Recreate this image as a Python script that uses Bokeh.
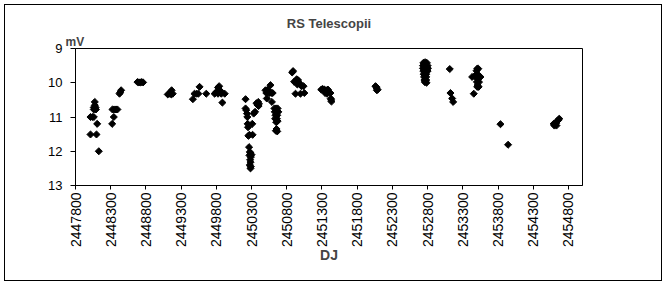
from bokeh.plotting import figure
from bokeh.layouts import column
from bokeh.models import (Range1d, FixedTicker, BasicTickFormatter, Title, ColumnDataSource)
from bokeh.embed import file_html
from bokeh.resources import INLINE
from math import pi

title_text = "RS Telescopii"
x_label = "DJ"
y_label = "mV"
x_ticks = [2447800 + 500 * k for k in range(15)]
y_ticks = [9, 10, 11, 12, 13]

jd = [
    2448013, 2448040, 2448060, 2448074, 2448074, 2448060, 2448085, 2448060, 2448090,
    2448108, 2448013, 2448098, 2448131,
    2448321, 2448344, 2448325, 2448350, 2448375, 2448395, 2448425, 2448435, 2448448,
    2448680, 2448700, 2448720, 2448740, 2448760,
    2449110, 2449135, 2449160, 2449181, 2449165, 2449150,
    2449467, 2449490, 2449520, 2449545, 2449562, 2449657,
    2449776, 2449800, 2449824, 2449840, 2449850, 2449824, 2449871, 2449919, 2449860, 2449886,
    2450215, 2450215, 2450225, 2450235, 2450240, 2450245, 2450250, 2450310, 2450255,
    2450270, 2450315,
    2450265, 2450275, 2450285, 2450270, 2450290, 2450280, 2450285, 2450275, 2450290,
    2450285, 2450300,
    2450330, 2450350, 2450370, 2450385, 2450395, 2450405, 2450400,
    2450498, 2450510, 2450530, 2450517, 2450569, 2450555, 2450580, 2450600, 2450589,
    2450625, 2450650, 2450670, 2450630, 2450660, 2450680, 2450640, 2450665, 2450635,
    2450660, 2450650, 2450670, 2450655, 2450665, 2450645,
    2450877, 2450890, 2450924, 2450905, 2450940, 2450960, 2450975, 2450990, 2451010,
    2451038, 2450950, 2450924, 2450995, 2451050,
    2451290, 2451310, 2451335, 2451360, 2451385, 2451345, 2451370, 2451420, 2451425,
    2451435, 2451430,
    2452060, 2452075, 2452090, 2452080, 2452070,
    2452740, 2452765, 2452790, 2452735, 2452765, 2452800, 2452735, 2452770, 2452805,
    2452740, 2452775, 2452800, 2452745, 2452780, 2452750, 2452780, 2452755, 2452780,
    2452760, 2452785,
    2453115, 2453125, 2453149, 2453163,
    2453456, 2453504, 2453520, 2453495, 2453433, 2453470, 2453551, 2453510, 2453510,
    2453500, 2453530, 2453510, 2453525, 2453505,
    2453835, 2453943,
    2454590, 2454610, 2454625, 2454640, 2454660, 2454670, 2454600, 2454630,
]

mag = [
    11.0, 11.0, 11.0, 10.56, 10.66, 10.72, 10.72, 10.78, 10.78,
    11.2, 11.51, 11.51, 12.0,
    11.2, 11.0, 10.78, 10.78, 10.78, 10.78, 10.32, 10.28, 10.22,
    9.98, 9.99, 9.99, 9.98, 9.99,
    10.34, 10.32, 10.34, 10.32, 10.22, 10.28,
    10.48, 10.32, 10.32, 10.32, 10.12, 10.32,
    10.32, 10.27, 10.14, 10.10, 10.22, 10.32, 10.32, 10.32, 10.25, 10.58,
    10.48, 10.75, 10.8, 10.9, 11.0, 11.2, 11.3, 11.2, 11.55,
    11.52, 11.52,
    11.88, 12.02, 12.05, 12.12, 12.17, 12.25, 12.32, 12.4, 12.45,
    12.5, 12.1,
    10.9, 10.85, 10.6, 10.65, 10.56, 10.62, 10.68,
    10.22, 10.3, 10.2, 10.46, 10.07, 10.3, 10.3, 10.3, 10.56,
    10.75, 10.75, 10.75, 10.85, 10.85, 10.85, 10.95, 10.95, 11.05,
    11.05, 11.15, 11.12, 11.35, 11.42, 11.4,
    9.70, 9.66, 9.95, 9.97, 9.90, 9.92, 10.0, 10.05, 10.1,
    10.1, 10.05, 10.32, 10.32, 10.3,
    10.2, 10.18, 10.2, 10.22, 10.2, 10.3, 10.32, 10.3, 10.46,
    10.55, 10.5,
    10.1, 10.15, 10.2, 10.22, 10.12,
    9.42, 9.40, 9.42, 9.5, 9.5, 9.5, 9.58, 9.58, 9.58,
    9.66, 9.66, 9.66, 9.75, 9.75, 9.83, 9.83, 9.92, 9.92,
    9.98, 10.0,
    9.60, 10.30, 10.46, 10.56,
    10.32, 9.59, 9.59, 9.65, 9.83, 9.80, 9.83, 9.75, 9.9,
    9.98, 9.98, 10.07, 10.12, 10.12,
    11.21, 11.81,
    11.2, 11.2, 11.18, 11.12, 11.08, 11.05, 11.25, 11.25,
]

src = ColumnDataSource(data=dict(jd=jd, mag=mag))

font = "Liberation Sans"

# figure sits inside a 1px bordered box at (4,4); canvas origin is at page (5,5)
p = figure(width=656, height=275, output_backend="svg", toolbar_location=None,
           x_range=Range1d(2447800, 2455000), y_range=Range1d(13, 9),
           title=title_text,
           min_border_left=70, min_border_right=79, min_border_top=43, min_border_bottom=95)
p.title.text_font = font
p.title.text_font_style = "bold"
p.title.text_font_size = "13px"
p.title.align = "center"
p.title.offset = 4
p.title.standoff = 4
p.add_layout(Title(text=y_label, align="left", text_font=font, text_font_style="bold",
                   text_font_size="12px", standoff=0, offset=-10), "above")

p.background_fill_color = "white"
p.border_fill_color = "white"
p.outline_line_color = "black"
p.outline_line_width = 1
p.xgrid.visible = False
p.ygrid.visible = False

p.scatter("jd", "mag", source=src, marker="square", angle=pi / 4, size=5, color="black")

p.xaxis.ticker = FixedTicker(ticks=x_ticks)
p.xaxis.formatter = BasicTickFormatter(use_scientific=False)
p.xaxis.major_label_orientation = pi / 2
p.xaxis.major_label_text_font = font
p.xaxis.major_label_text_font_size = "14px"
p.xaxis.major_label_text_color = "black"
p.xaxis.major_label_standoff = 3
p.xaxis.major_tick_out = 4
p.xaxis.major_tick_in = 0
p.xaxis.minor_tick_out = 0
p.xaxis.minor_tick_in = 0
p.xaxis.axis_line_color = "black"
p.xaxis.major_tick_line_color = "black"
p.xaxis.axis_label = x_label
p.xaxis.axis_label_text_font = font
p.xaxis.axis_label_text_font_style = "bold"
p.xaxis.axis_label_text_font_size = "14px"
p.xaxis.axis_label_standoff = -3

p.yaxis.ticker = FixedTicker(ticks=y_ticks)
p.yaxis.major_label_text_font = font
p.yaxis.major_label_text_font_size = "13px"
p.yaxis.major_label_text_color = "black"
p.yaxis.major_label_standoff = 8
p.yaxis.major_tick_out = 5
p.yaxis.major_tick_in = 0
p.yaxis.minor_tick_out = 0
p.yaxis.minor_tick_in = 0
p.yaxis.axis_line_color = "black"
p.yaxis.major_tick_line_color = "black"

layout = column(p, styles={"margin": "4px 0 0 4px", "border": "1px solid black",
                           "box-sizing": "content-box"})

open("out.html", "w").write(file_html(layout, INLINE))
